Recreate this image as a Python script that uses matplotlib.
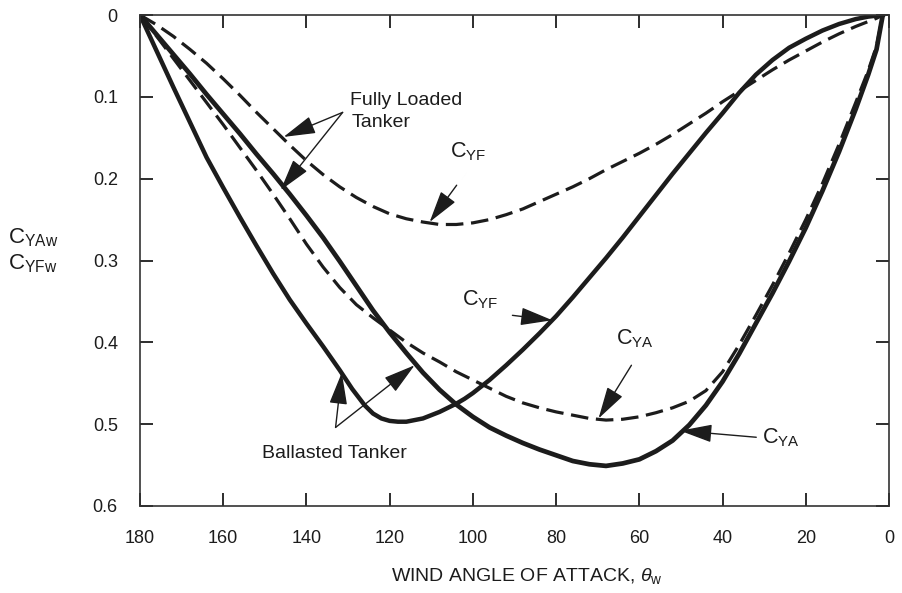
"""Lateral wind-force coefficients for a tanker, fully loaded vs. ballasted."""

import matplotlib

matplotlib.use("Agg")  # headless
import matplotlib.pyplot as plt  # noqa: E402

plt.rcParams["font.family"] = ["Liberation Sans", "DejaVu Sans"]
plt.rcParams["mathtext.fontset"] = "custom"
plt.rcParams["mathtext.rm"] = "Liberation Sans"
plt.rcParams["mathtext.it"] = "Liberation Sans:italic"
plt.rcParams["mathtext.default"] = "regular"

INK = "#1c1c1c"

# wind angle of attack, degrees
ANGLE = [180, 176, 172, 168, 164, 160, 156, 152, 148, 144, 140, 136, 132, 128,
         124, 120, 116, 112, 108, 104, 100, 96, 92, 88, 84, 80, 76, 72, 68, 64,
         60, 56, 52, 48, 44, 40, 36, 32, 28, 24, 20, 16, 12, 8, 5, 3, 1.5]
# the ballasted C_YF curve bottoms out sharply, so it was read more densely
BALLAST_CYF_ANGLE = [180, 176, 172, 168, 164, 160, 156, 152, 148, 144, 140, 136,
                     132, 129, 126, 124, 122, 120, 118, 116, 114, 112, 110, 108,
                     106, 104, 102, 100, 96, 92, 88, 84, 80, 76, 72, 68, 64, 60,
                     56, 52, 48, 44, 40, 36, 32, 28, 24, 20, 16, 12, 8, 5, 1.5]

# ballasted tanker (solid)
BALLAST_CYF = [0, 0.044, 0.088, 0.131, 0.174, 0.211, 0.247, 0.282, 0.316, 0.348,
               0.377, 0.405, 0.434, 0.457, 0.477, 0.487, 0.493, 0.496, 0.497,
               0.497, 0.495, 0.493, 0.489, 0.485, 0.480, 0.475, 0.469, 0.462,
               0.446, 0.428, 0.409, 0.389, 0.368, 0.345, 0.321, 0.297, 0.272,
               0.246, 0.220, 0.194, 0.169, 0.144, 0.120, 0.095, 0.073, 0.055,
               0.040, 0.029, 0.019, 0.011, 0.005, 0.002, 0]
BALLAST_CYA = [0, 0.024, 0.048, 0.072, 0.097, 0.121, 0.145, 0.170, 0.194, 0.219,
               0.245, 0.272, 0.301, 0.331, 0.361, 0.388, 0.413, 0.437, 0.458,
               0.476, 0.491, 0.504, 0.514, 0.523, 0.531, 0.538, 0.545, 0.549,
               0.551, 0.548, 0.543, 0.533, 0.520, 0.501, 0.477, 0.448, 0.414,
               0.377, 0.340, 0.301, 0.260, 0.215, 0.167, 0.115, 0.073, 0.042, 0]

# fully loaded tanker (dashed)
LOADED_CYF = [0, 0.012, 0.026, 0.042, 0.059, 0.078, 0.098, 0.119, 0.139, 0.159,
              0.178, 0.195, 0.210, 0.223, 0.234, 0.243, 0.249, 0.253, 0.256,
              0.256, 0.254, 0.250, 0.244, 0.237, 0.228, 0.219, 0.210, 0.200,
              0.189, 0.179, 0.169, 0.158, 0.146, 0.133, 0.120, 0.106, 0.093,
              0.080, 0.067, 0.055, 0.044, 0.033, 0.023, 0.014, 0.008, 0.004, 0]
LOADED_CYA = [0, 0.026, 0.053, 0.080, 0.107, 0.134, 0.162, 0.190, 0.219, 0.249,
              0.280, 0.308, 0.333, 0.354, 0.370, 0.385, 0.400, 0.413, 0.424,
              0.436, 0.446, 0.456, 0.466, 0.474, 0.480, 0.485, 0.489, 0.493,
              0.495, 0.494, 0.491, 0.486, 0.480, 0.472, 0.459, 0.436, 0.403,
              0.367, 0.330, 0.291, 0.250, 0.206, 0.158, 0.107, 0.068, 0.038, 0]

X_TICKS = [180, 160, 140, 120, 100, 80, 60, 40, 20, 0]
Y_TICKS = [0, 0.1, 0.2, 0.3, 0.4, 0.5, 0.6]
Y_TICK_LABELS = ["0", "0.1", "0.2", "0.3", "0.4", "0.5", "0.6"]


def arrow(ax, tail, tip):
    ax.annotate("", xy=tip, xytext=tail, zorder=5,
                arrowprops=dict(arrowstyle="-|>,head_length=1.0,head_width=0.28",
                                mutation_scale=20, lw=1.0, color=INK,
                                shrinkA=0, shrinkB=0))


fig = plt.figure(figsize=(9.03, 5.93), dpi=100)
ax = fig.add_axes([140 / 903, 87 / 593, 749 / 903, 491 / 593])

dash = dict(color=INK, lw=2.3, dashes=(5.5, 2.4))
ax.plot(ANGLE, LOADED_CYF, **dash)
ax.plot(ANGLE, LOADED_CYA, **dash)
ax.plot(BALLAST_CYF_ANGLE, BALLAST_CYF, color=INK, lw=3.2)
ax.plot(ANGLE, BALLAST_CYA, color=INK, lw=3.4)

ax.set_xlim(180, 0)
ax.set_ylim(0.6, 0)
ax.set_xticks(X_TICKS)
ax.set_yticks(Y_TICKS)
ax.set_yticklabels(Y_TICK_LABELS)
ax.tick_params(direction="in", length=9.5, width=1.3, top=True, right=True,
               labelsize=13, colors=INK)
ax.tick_params(axis="x", pad=17)
ax.tick_params(axis="y", pad=16)
for sp in ax.spines.values():
    sp.set_linewidth(1.2)
    sp.set_color("#333333")

ax.set_xlabel(r"WIND ANGLE OF ATTACK, $\mathit{\theta}_{w}$", fontsize=14, color=INK)
ax.xaxis.set_label_coords(0.516, -0.122)
ax.set_ylabel("C$_{YAw}$\nC$_{YFw}$", rotation=0, fontsize=16, color=INK,
              ha="left", va="center")
ax.yaxis.set_label_coords(-0.176, 0.52)

# fully loaded tanker callout
ax.text(129.6, 0.110, "Fully Loaded", fontsize=14, color=INK)
ax.text(129.1, 0.137, "Tanker", fontsize=14, color=INK)
arrow(ax, (131.3, 0.119), (145.5, 0.149))
arrow(ax, (131.3, 0.119), (146.2, 0.214))

# ballasted tanker callout
ax.text(150.7, 0.541, "Ballasted Tanker", fontsize=14, color=INK)
arrow(ax, (133.0, 0.504), (131.5, 0.437))
arrow(ax, (133.0, 0.504), (114.0, 0.428))

# curve labels
ax.text(105.6, 0.174, "C$_{YF}$", fontsize=15.5, color=INK)
arrow(ax, (103.9, 0.208), (110.4, 0.253))
ax.text(102.7, 0.355, "C$_{YF}$", fontsize=15.5, color=INK)
arrow(ax, (90.5, 0.367), (80.9, 0.373))
ax.text(65.5, 0.403, "C$_{YA}$", fontsize=15.5, color=INK)
arrow(ax, (61.9, 0.428), (69.8, 0.493))
ax.text(30.5, 0.523, "C$_{YA}$", fontsize=15.5, color=INK)
arrow(ax, (31.9, 0.516), (50.2, 0.508))

fig.savefig("out.png", dpi=100)
